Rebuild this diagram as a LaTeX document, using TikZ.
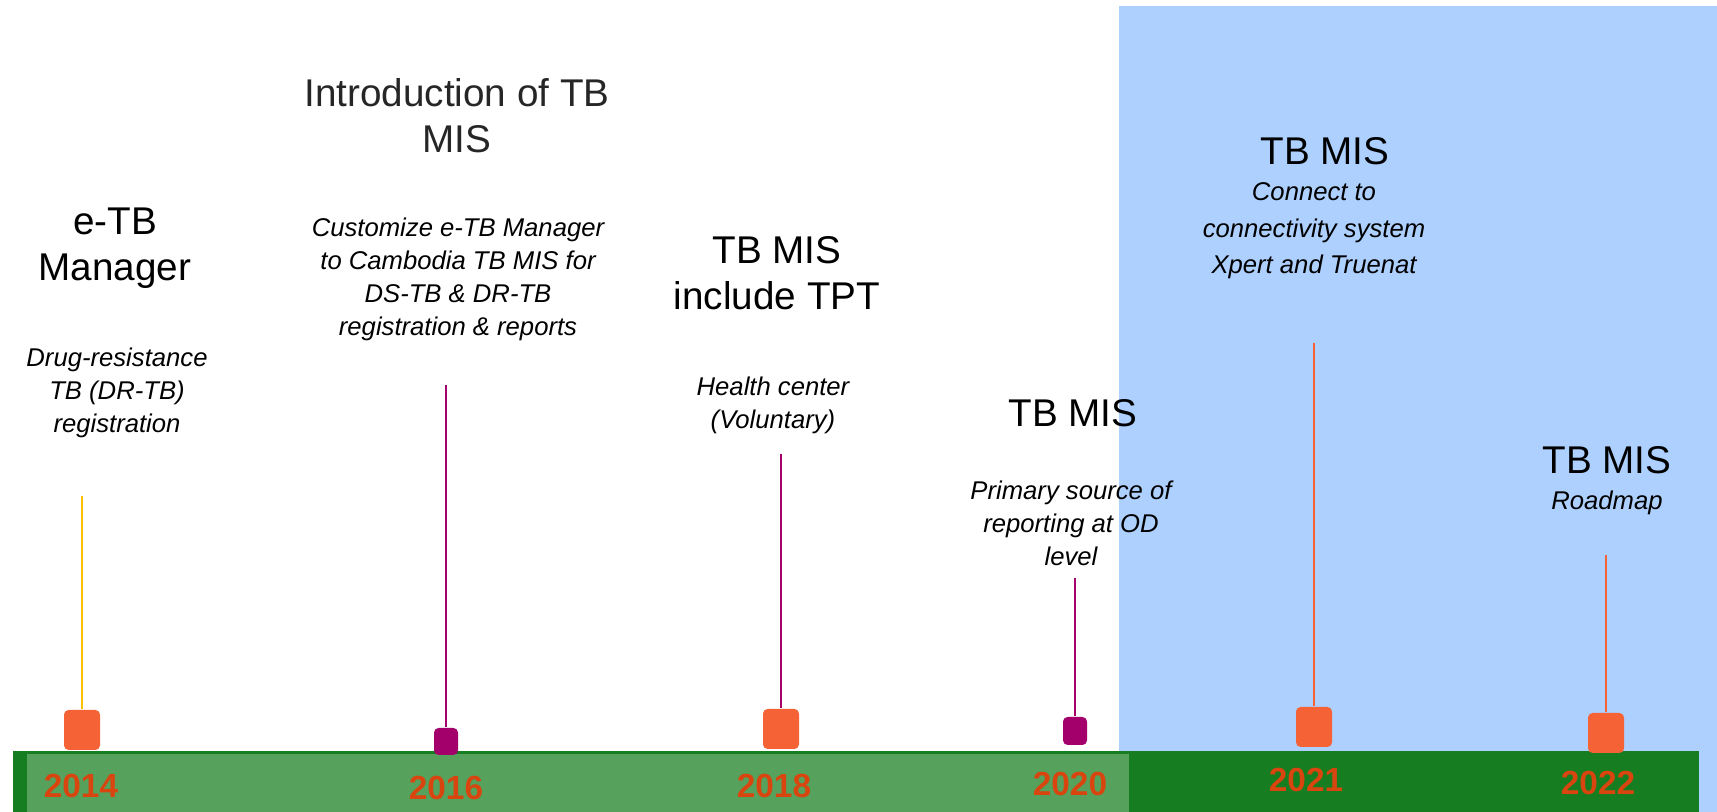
\documentclass[tikz,border=0pt]{standalone}
\usepackage{fontspec}
\setmainfont{Liberation Sans}
\usetikzlibrary{positioning}

\definecolor{tlorange}{HTML}{F46236}
\definecolor{tlpurple}{HTML}{A3006B}
\definecolor{tlyellow}{HTML}{FFC000}
\definecolor{bardark}{HTML}{167D20}
\definecolor{barlight}{HTML}{56A15C}
\definecolor{zoneblue}{HTML}{ADD0FE}
\definecolor{yearred}{HTML}{D9450F}

\begin{document}
\begin{tikzpicture}[
    % --- Styles ---
    marker/.style={fill=#1, draw=none, rounded corners=1.3pt, minimum width=0.36cm, minimum height=0.40cm, inner sep=0pt},
    smallmarker/.style={fill=#1, draw=none, rounded corners=1.3pt, minimum width=0.24cm, minimum height=0.27cm, inner sep=0pt},
    stem/.style={draw=#1, line width=0.45pt},
    heading/.style={align=center, inner sep=0pt, font=\fontsize{11}{13.1}\selectfont},
    detail/.style={align=center, inner sep=0pt, font=\fontsize{7.3}{9.4}\selectfont\itshape},
    year_label/.style={inner sep=0pt, text=yearred, font=\fontsize{9.5}{11}\selectfont\bfseries},
]

    \useasboundingbox (0,0) rectangle (17.17,8.12);

    % ==========================
    % 1. BACKGROUND ZONE AND BAR
    % ==========================
    \fill[zoneblue] (11.19,0) rectangle (17.17,8.06);
    \fill[bardark] (0.13,0) rectangle (16.99,0.61);
    \fill[barlight] (0.27,0) rectangle (11.29,0.58);

    % ==========================
    % 2. MARKERS AND STEMS
    % ==========================
    \node[marker=tlorange] (m2014) at (0.82, 0.82) {};
    \node[smallmarker=tlpurple] (m2016) at (4.46, 0.705) {};
    \node[marker=tlorange] (m2018) at (7.81, 0.83) {};
    \node[smallmarker=tlpurple, minimum height=0.28cm] (m2020) at (10.75, 0.81) {};
    \node[marker=tlorange] (m2021) at (13.14, 0.85) {};
    \node[marker=tlorange] (m2022) at (16.06, 0.79) {};

    \coordinate (s2014) at (0.82, 3.16);
    \coordinate (s2016) at (4.46, 4.27);
    \coordinate (s2018) at (7.81, 3.58);
    \coordinate (s2020) at (10.75, 2.34);
    \coordinate (s2021) at (13.14, 4.69);
    \coordinate (s2022) at (16.06, 2.57);

    \draw[stem=tlyellow] (m2014.north) -- (s2014);
    \draw[stem=tlpurple] (m2016.north) -- (s2016);
    \draw[stem=tlpurple] (m2018.north) -- (s2018);
    \draw[stem=tlpurple] (m2020.north) -- (s2020);
    \draw[stem=tlorange] (m2021.north) -- (s2021);
    \draw[stem=tlorange] (m2022.north) -- (s2022);

    % ==========================
    % 3. YEARS
    % ==========================
    \node[year_label] (y2014) at (0.81, 0.26) {2014};
    \node[year_label] (y2016) at (4.46, 0.24) {2016};
    \node[year_label] (y2018) at (7.74, 0.26) {2018};
    \node[year_label] (y2020) at (10.70, 0.28) {2020};
    \node[year_label] (y2021) at (13.06, 0.32) {2021};
    \node[year_label] (y2022) at (15.98, 0.29) {2022};

    % ==========================
    % 4. MILESTONE TEXTS
    % ==========================
    \node[heading] (h2014) at (1.15, 5.64) {e-TB\\Manager};
    \node[detail] (d2014) at (1.17, 4.19) {Drug-resistance\\TB (DR-TB)\\registration};

    \node[heading, text=black!85] (h2016) at (4.57, 6.96) {Introduction of TB\\MIS};
    \node[detail] (d2016) at (4.58, 5.33) {Customize e-TB Manager\\to Cambodia TB MIS for\\DS-TB \& DR-TB\\registration \& reports};

    \node[heading] (h2018) at (7.77, 5.39) {TB MIS\\include TPT};
    \node[detail] (d2018) at (7.73, 4.07) {Health center\\(Voluntary)};

    \node[heading] (h2020) at (10.73, 3.99) {TB MIS};
    \node[detail] (d2020) at (10.71, 2.89) {Primary source of\\reporting at OD\\level};

    \node[heading] (h2021) at (13.25, 6.61) {TB MIS};
    \node[detail, font=\fontsize{7.3}{10.4}\selectfont\itshape] (d2021) at (13.14, 5.81) {Connect to\\connectivity system\\Xpert and Truenat};

    \node[heading] (h2022) at (16.07, 3.52) {TB MIS};
    \node[detail] (d2022) at (16.07, 3.09) {Roadmap};

\end{tikzpicture}
\end{document}
